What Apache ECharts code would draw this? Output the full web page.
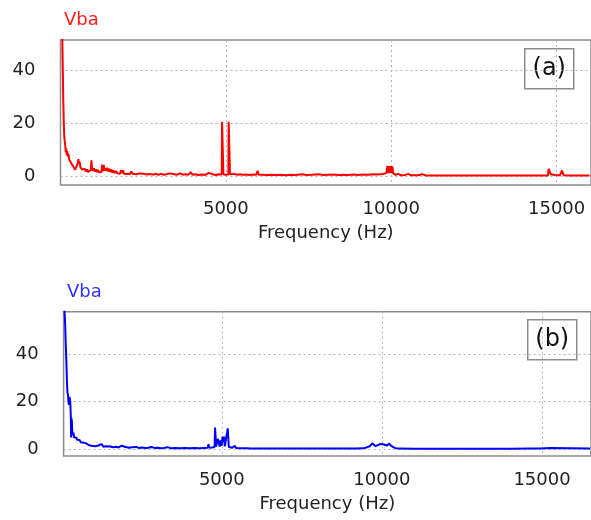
<!DOCTYPE html>
<html>
<head>
<meta charset="utf-8">
<script src="https://cdn.jsdelivr.net/npm/echarts@6/dist/echarts.min.js"></script>
<style>
  html, body { margin: 0; padding: 0; background: #fff; }
  #chart { width: 591px; height: 520px; }
</style>
</head>
<body>
<div id="chart"></div>
<script>
// Harmonic spectrum of the line voltage Vba, two cases: (a) and (b)
const panelNames = ['(a)', '(b)'];
const seriesTitle = 'Vba';
const xAxisTitle = 'Frequency (Hz)';
const xTickValues = [5000, 10000, 15000];
const yTickValues = [0, 20, 40];

// Case (a): [frequency Hz, magnitude]
const spectrumA = [
  [50, 56], [70, 40], [85, 28], [100, 20], [115, 15], [130, 13], [145, 11.5], [160, 9],
  [175, 10.5], [190, 8], [205, 9.5], [220, 7.5], [240, 8.5], [260, 6.5], [280, 7], [300, 5.5],
  [320, 6], [345, 4.5], [370, 5], [395, 3.5], [420, 4], [445, 2.5], [470, 3], [500, 2.2],
  [525, 5], [540, 6.5], [560, 4.8], [580, 5.6], [600, 3.5], [625, 4], [650, 2.6], [680, 3.2],
  [710, 2.2], [740, 2.8], [770, 1.8], [800, 2.6], [830, 1.6], [860, 2.2], [890, 1.6], [915, 2.4],
  [935, 6], [955, 2.8], [980, 2], [1010, 3], [1040, 1.8], [1070, 2.6], [1100, 1.6], [1130, 2.4],
  [1160, 1.5], [1200, 2.2], [1240, 1.6], [1260, 4.4], [1280, 2], [1310, 4.3], [1330, 2.2],
  [1360, 3], [1390, 2], [1420, 3.2], [1450, 1.8], [1480, 2.8], [1510, 1.6], [1540, 2.6],
  [1570, 1.4], [1600, 2.2], [1640, 1.2], [1680, 2], [1720, 1.1], [1760, 1.6], [1800, 1],
  [1830, 2.4], [1860, 1.2], [1890, 2.3], [1920, 1], [1960, 1.3], [2000, 0.9], [2060, 1.2],
  [2100, 0.9], [2140, 1.8], [2180, 1], [2240, 1.2], [2300, 0.8], [2380, 1.1], [2440, 0.8],
  [2520, 1], [2600, 0.7], [2680, 0.9], [2740, 1.3], [2800, 0.7], [2880, 0.9], [2960, 0.6],
  [3050, 0.9], [3120, 0.6], [3200, 0.8], [3290, 1.1], [3350, 0.6], [3440, 0.8], [3520, 0.6],
  [3620, 1.1], [3700, 0.6], [3780, 0.8], [3860, 0.6], [3940, 1.5], [3990, 0.6], [4080, 0.8],
  [4180, 0.5], [4280, 0.7], [4380, 0.5], [4480, 1.3], [4530, 0.6], [4620, 0.7], [4700, 0.5],
  [4780, 0.8], [4875, 0.7], [4885, 20.6], [4915, 20.6], [4925, 0.7], [5000, 0.6],
  [5075, 0.7], [5085, 20.6], [5115, 20.6], [5125, 0.8],
  [5180, 0.7], [5260, 0.9], [5340, 0.6], [5420, 0.8], [5520, 0.6], [5620, 0.7], [5720, 0.5],
  [5820, 0.7], [5920, 0.6], [5960, 2.1], [5990, 0.6], [6100, 0.6], [6220, 0.5], [6350, 0.6],
  [6500, 0.5], [6650, 0.6], [6800, 0.4], [6950, 0.6], [7100, 0.5], [7300, 0.8], [7450, 0.5],
  [7600, 0.6], [7800, 0.8], [7950, 0.5], [8100, 0.6], [8250, 0.7], [8400, 0.5], [8550, 0.6],
  [8700, 0.5], [8850, 0.7], [9000, 0.5], [9150, 0.7], [9300, 0.6], [9450, 0.8], [9600, 0.7],
  [9750, 0.9], [9850, 1.2], [9885, 3.9], [9900, 1.2], [9915, 3.9], [9930, 1.2], [9945, 3.9],
  [9960, 1.2], [9975, 3.9], [9990, 1.2], [10005, 3.9], [10020, 1.2], [10035, 3.8], [10060, 1],
  [10140, 0.6], [10210, 0.9], [10300, 0.4], [10420, 0.5], [10510, 0.9], [10600, 0.4],
  [10800, 0.4], [10940, 0.8], [11050, 0.3], [11500, 0.3], [12000, 0.3], [12500, 0.3],
  [13000, 0.3], [13500, 0.3], [14000, 0.3], [14500, 0.3], [14740, 0.3], [14760, 2.8],
  [14790, 2.5], [14820, 0.8], [14950, 0.5], [15030, 0.4], [15060, 1], [15100, 0.4],
  [15150, 0.5], [15165, 2.2], [15195, 2.2], [15210, 0.4], [15400, 0.3], [16000, 0.3]
];

// Case (b): [frequency Hz, magnitude]
const spectrumB = [
  [60, 62], [90, 58], [110, 52], [125, 45], [140, 39.6], [155, 33], [165, 28], [180, 24],
  [196, 22.8], [210, 20], [227, 18.6], [245, 22], [268, 20], [285, 14], [295, 5], [305, 13],
  [320, 11.6], [335, 6], [351, 5.3], [370, 7], [385, 5], [403, 5.5], [420, 4.2], [454, 5],
  [480, 4], [506, 4.5], [530, 3.5], [558, 3.9], [600, 3], [630, 3.4], [661, 2.5], [700, 2.8],
  [740, 2.2], [765, 2.5], [800, 2.3], [840, 1.8], [880, 2], [920, 1.5], [980, 1.7], [1050, 1.3],
  [1120, 1.5], [1180, 1.2], [1250, 2.2], [1300, 1.1], [1380, 1.3], [1440, 1.0], [1520, 1.2],
  [1600, 0.9], [1700, 1.1], [1780, 0.8], [1865, 1.5], [1920, 0.8], [2000, 1], [2100, 0.7],
  [2200, 0.9], [2330, 1.0], [2400, 0.6], [2500, 0.8], [2620, 0.6], [2700, 0.7], [2800, 1.0],
  [2900, 0.6], [3000, 0.7], [3100, 0.5], [3200, 0.6], [3310, 0.9], [3400, 0.5], [3550, 0.6],
  [3700, 0.5], [3850, 0.6], [4000, 0.5], [4150, 0.6], [4300, 0.5], [4420, 0.6], [4560, 0.7],
  [4585, 2.1], [4610, 0.7], [4700, 0.8], [4775, 1], [4790, 9.1], [4810, 8.5], [4825, 1.2],
  [4850, 1.5], [4870, 4.4], [4895, 3.5], [4910, 4.2], [4935, 1.1], [4960, 3.8], [4975, 2.5],
  [5000, 1.5], [5020, 5.3], [5045, 3], [5070, 5.3], [5095, 1.2], [5150, 1.1], [5170, 1],
  [5185, 8.8], [5205, 8.5], [5220, 1], [5260, 0.6], [5330, 0.7], [5390, 0.6], [5414, 1.5],
  [5440, 0.6], [5520, 0.5], [5620, 0.4], [5750, 0.4], [5900, 0.3], [6200, 0.3], [6600, 0.3],
  [7000, 0.3], [7180, 0.3], [7215, 0.6], [7250, 0.3], [7700, 0.3], [8200, 0.3], [8230, 0.6],
  [8260, 0.3], [8800, 0.3], [9180, 0.3], [9210, 0.6], [9240, 0.3], [9400, 0.4], [9520, 0.8],
  [9620, 1.3], [9700, 2.5], [9740, 2.3], [9800, 1.3], [9860, 1.6], [9940, 2.2], [9990, 1.8],
  [10040, 2.1], [10100, 1.4], [10160, 1.6], [10230, 2.4], [10280, 1.5], [10330, 1.0],
  [10400, 0.6], [10500, 0.3], [11000, 0.25], [12000, 0.25], [13000, 0.25], [14000, 0.25],
  [14650, 0.3], [14700, 0.6], [14760, 0.3], [14820, 0.6], [14870, 0.3], [14930, 0.6],
  [15000, 0.3], [15090, 0.5], [15150, 0.3], [15280, 0.6], [15330, 0.3], [16500, 0.3]
];

const FONT = 'DejaVu Sans';
const gridLine = { show: true, lineStyle: { color: '#b4b4b4', type: [2, 3], width: 1 } };
const plainNumber = v => String(v);

function xAxisFor(gridIndex, min, max) {
  return {
    type: 'value', gridIndex, min, max,
    name: xAxisTitle, nameLocation: 'middle', nameGap: 39,
    nameTextStyle: { fontFamily: FONT, fontSize: 18, color: '#222' },
    axisLine: { show: false },
    axisTick: { show: false, customValues: xTickValues },
    axisLabel: { customValues: xTickValues, formatter: plainNumber, fontFamily: FONT, fontSize: 18, color: '#222', margin: 15 },
    splitLine: gridLine
  };
}
function yAxisFor(gridIndex, min, max) {
  return {
    type: 'value', gridIndex, min, max,
    axisLine: { show: false },
    axisTick: { show: false, customValues: yTickValues },
    axisLabel: { customValues: yTickValues, formatter: plainNumber, fontFamily: FONT, fontSize: 18, color: '#222', margin: 25 },
    splitLine: gridLine
  };
}

const chart = echarts.init(document.getElementById('chart'), null, { renderer: 'canvas' });
chart.setOption({
  animation: false,
  backgroundColor: '#fff',
  title: [
    { text: seriesTitle, left: 59, top: 6, textStyle: { fontFamily: FONT, fontSize: 18, fontWeight: 'normal', color: '#ff1a1a' } },
    { text: seriesTitle, left: 62, top: 278, textStyle: { fontFamily: FONT, fontSize: 18, fontWeight: 'normal', color: '#3333ff' } }
  ],
  grid: [
    { left: 60.5, right: -3, top: 40, height: 145, show: true, borderColor: '#8c8c8c', borderWidth: 1.5, containLabel: false },
    { left: 63.6, right: -3, top: 311.7, height: 144.3, show: true, borderColor: '#8c8c8c', borderWidth: 1.5, containLabel: false }
  ],
  xAxis: [xAxisFor(0, 0, 16040), xAxisFor(1, 60, 16530)],
  yAxis: [yAxisFor(0, -3.3, 51.6), yAxisFor(1, -2.8, 57.7)],
  series: [
    { type: 'line', xAxisIndex: 0, yAxisIndex: 0, data: spectrumA, showSymbol: false, clip: true,
      lineStyle: { color: '#ff0000', width: 2 }, itemStyle: { color: '#ff0000' } },
    { type: 'line', xAxisIndex: 1, yAxisIndex: 1, data: spectrumB, showSymbol: false, clip: true,
      lineStyle: { color: '#0000ff', width: 2 }, itemStyle: { color: '#0000ff' } }
  ],
  graphic: [
    { type: 'group', left: 524, top: 48, children: [
      { type: 'rect', shape: { x: 0, y: 0, width: 49, height: 40 }, style: { fill: '#fff', stroke: '#8c8c8c', lineWidth: 1.5 } },
      { type: 'text', x: 24.5, y: 20, style: { text: panelNames[0], fontFamily: FONT, fontSize: 24, fill: '#111', align: 'center', verticalAlign: 'middle' } }
    ]},
    { type: 'group', left: 527, top: 319, children: [
      { type: 'rect', shape: { x: 0, y: 0, width: 49, height: 40 }, style: { fill: '#fff', stroke: '#8c8c8c', lineWidth: 1.5 } },
      { type: 'text', x: 24.5, y: 20, style: { text: panelNames[1], fontFamily: FONT, fontSize: 24, fill: '#111', align: 'center', verticalAlign: 'middle' } }
    ]}
  ]
});
</script>
</body>
</html>
